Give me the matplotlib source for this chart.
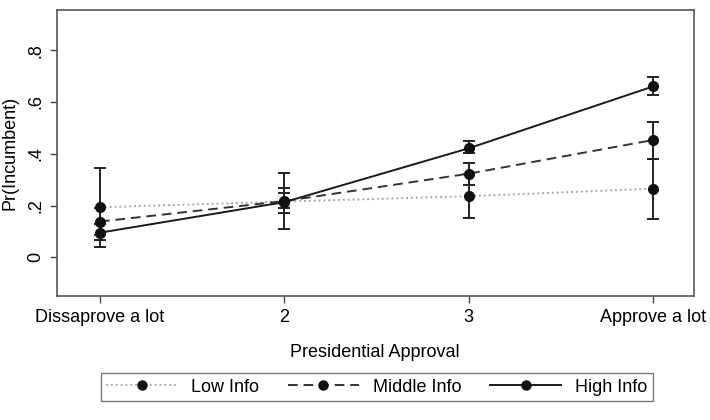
import numpy as np
import matplotlib.pyplot as plt
from matplotlib.lines import Line2D

plt.rcParams['font.family'] = ['Liberation Sans', 'DejaVu Sans']

# Presidential approval levels (1..4)
approval = [1, 2, 3, 4]
approval_labels = ["Dissaprove a lot", "2", "3", "Approve a lot"]

# Predicted Pr(Incumbent) and confidence intervals
low_info = [0.193, 0.215, 0.236, 0.265]
low_lo = [0.041, 0.108, 0.151, 0.148]
low_hi = [0.345, 0.325, 0.321, 0.381]

mid_info = [0.138, 0.217, 0.323, 0.453]
mid_lo = [0.085, 0.170, 0.279, 0.380]
mid_hi = [0.192, 0.267, 0.364, 0.522]

high_info = [0.095, 0.213, 0.421, 0.660]
high_lo = [0.066, 0.190, 0.402, 0.627]
high_hi = [0.128, 0.248, 0.449, 0.696]

fig = plt.figure(figsize=(7.1, 4.2), dpi=100)
ax = fig.add_axes([0.080, 0.295, 0.897, 0.681])

series = [
    ("Low Info", low_info, low_lo, low_hi, (0, (1, 1.5)), "#a8a8a8"),
    ("Middle Info", mid_info, mid_lo, mid_hi, (0, (5, 3)), "#333333"),
    ("High Info", high_info, high_lo, high_hi, "-", "#1a1a1a"),
]

handles = []
for name, y, lo, hi, ls, col in series:
    y = np.array(y)
    err = [y - np.array(lo), np.array(hi) - y]
    ax.plot(approval, y, linestyle=ls, color=col, lw=1.4, zorder=2)
    ax.errorbar(approval, y, yerr=err, fmt="o", color="#111111", ms=7,
                ecolor="#222222", elinewidth=1.4, capsize=4, capthick=1.4, zorder=3)
    handles.append(Line2D([0], [0], linestyle=ls, color=col if name != "Low Info" else "#b0b0b0",
                          lw=1.4, marker="o", ms=6.5, mfc="#111111", mec="#111111"))

ax.set_xlim(0.766, 4.22)
ax.set_ylim(-0.15, 0.955)
ax.set_xticks(approval)
ax.set_xticklabels(approval_labels, fontsize=13)
ax.set_yticks([0, 0.2, 0.4, 0.6, 0.8])
ax.set_yticklabels(["0", ".2", ".4", ".6", ".8"], fontsize=13, rotation=90, va="center")
ax.tick_params(direction="out", length=5, width=1, color="#444444", pad=4)
for s in ax.spines.values():
    s.set_color("#555555")
    s.set_linewidth(1.2)

ax.set_ylabel("Pr(Incumbent)", fontsize=13, labelpad=6)
ax.set_xlabel("Presidential Approval", fontsize=13, labelpad=13)

leg = fig.legend(handles, [s[0] for s in series], loc="center",
                 bbox_to_anchor=(377 / 710, 1 - 387 / 420), ncol=3, fontsize=13,
                 frameon=True, fancybox=False, edgecolor="#555555",
                 handlelength=3.9, columnspacing=1.6, borderpad=0.3, handletextpad=0.8)
leg.get_frame().set_linewidth(1.0)

fig.savefig("out.png", dpi=100, facecolor="white")
